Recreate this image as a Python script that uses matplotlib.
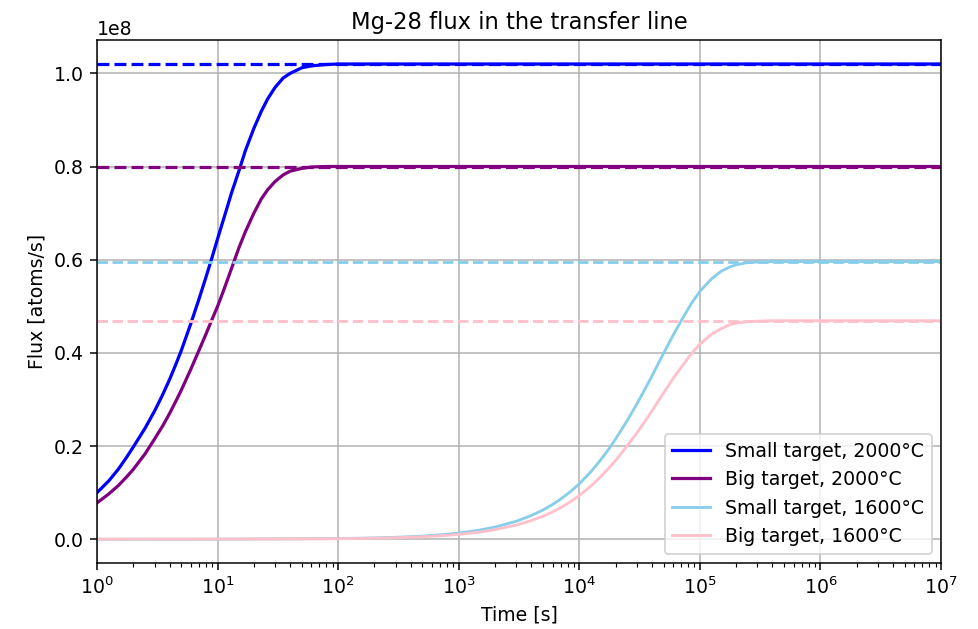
import numpy as np
import matplotlib
matplotlib.use("Agg")
import matplotlib.pyplot as plt

# Times [s] and flux values (in 1e8 atoms/s)
t_fast = [1, 1.25, 1.5, 1.75, 2, 2.5, 3, 3.5, 4, 4.5, 5, 6, 7, 8, 9, 10, 11, 12, 13,
          15, 17, 20, 23, 26, 30, 35, 40, 50, 60, 80, 100, 1e7]
small_2000 = [0.100, 0.125, 0.150, 0.175, 0.198, 0.238, 0.275, 0.310, 0.343, 0.375,
              0.405, 0.463, 0.515, 0.562, 0.605, 0.645, 0.680, 0.712, 0.742, 0.790,
              0.834, 0.882, 0.918, 0.945, 0.970, 0.990, 1.000, 1.012, 1.016, 1.019,
              1.020, 1.020]
big_2000 = [0.078, 0.097, 0.115, 0.133, 0.150, 0.183, 0.215, 0.243, 0.270, 0.296,
            0.320, 0.365, 0.405, 0.440, 0.472, 0.500, 0.528, 0.555, 0.580, 0.625,
            0.660, 0.700, 0.730, 0.750, 0.768, 0.782, 0.790, 0.796, 0.799, 0.800,
            0.800, 0.800]

t_slow = [1, 10, 100, 200, 300, 500, 700, 1e3, 1.5e3, 2e3, 3e3, 4e3, 5e3, 6e3, 7e3,
          8.5e3, 1e4, 1.25e4, 1.5e4, 1.75e4, 2e4, 2.5e4, 3e4, 3.5e4, 4e4, 4.5e4, 5e4,
          6e4, 7e4, 8.5e4, 1e5, 1.25e5, 1.5e5, 1.75e5, 2e5, 2.5e5, 3e5, 4e5, 5e5, 1e7]
small_1600 = [0.0, 0.0001, 0.0013, 0.0027, 0.004, 0.0066, 0.0093, 0.0131, 0.0196,
              0.026, 0.0385, 0.0508, 0.0627, 0.0745, 0.086, 0.1027, 0.119, 0.145,
              0.170, 0.193, 0.215, 0.255, 0.290, 0.322, 0.350, 0.376, 0.399, 0.438,
              0.469, 0.506, 0.532, 0.559, 0.575, 0.584, 0.589, 0.594, 0.595, 0.596,
              0.596, 0.596]
big_1600 = [0.0, 0.0001, 0.001, 0.0021, 0.0031, 0.0052, 0.0073, 0.0103, 0.0154,
            0.0205, 0.0303, 0.040, 0.0493, 0.0586, 0.0677, 0.0808, 0.094, 0.114,
            0.134, 0.152, 0.169, 0.201, 0.228, 0.253, 0.275, 0.296, 0.314, 0.345,
            0.369, 0.398, 0.419, 0.440, 0.452, 0.460, 0.464, 0.467, 0.468, 0.469,
            0.469, 0.469]

# saturation levels (dashed lines)
sat_levels = [1.020, 0.800, 0.596, 0.469]

labels = ["Small target, 2000°C", "Big target, 2000°C",
          "Small target, 1600°C", "Big target, 1600°C"]
colors = ["blue", "purple", "skyblue", "pink"]

series = [(t_fast, small_2000), (t_fast, big_2000), (t_slow, small_1600), (t_slow, big_1600)]
widths = [1.7, 1.7, 1.5, 1.5]

fig = plt.figure(figsize=(978 / 136, 629 / 136), dpi=136)
ax = fig.add_axes([0.0992, 0.105, 0.8630, 0.831])

for (t, y), lab, c, lw, sat in zip(series, labels, colors, widths, sat_levels):
    ax.axhline(sat * 1e8, color=c, linestyle="--", linewidth=lw)
    ax.plot(t, np.array(y) * 1e8, color=c, linewidth=lw, label=lab)

ax.set_xscale("log")
ax.set_xlim(1, 1e7)
ax.set_ylim(-0.051e8, 1.071e8)
ax.set_title("Mg-28 flux in the transfer line")
ax.set_xlabel("Time [s]")
ax.set_ylabel("Flux [atoms/s]")
ax.grid(True)
ax.legend(loc="lower right")

fig.savefig("out.png", dpi=136)
